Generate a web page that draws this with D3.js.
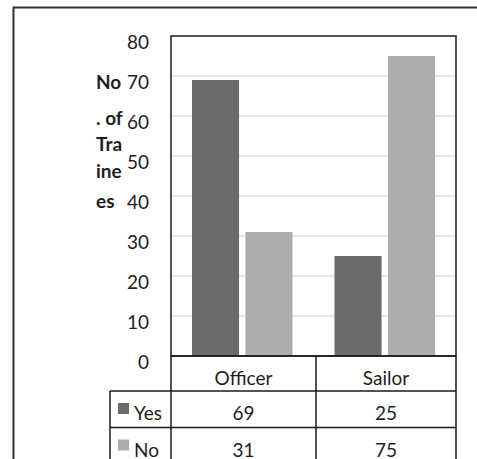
<!DOCTYPE html>
<html>
<head>
<meta charset="utf-8">
<script src="https://cdn.jsdelivr.net/npm/d3@7"></script>
<style>
  body { margin: 0; background: #fff; }
  svg { display: block; font-family: Lato, "Open Sans", sans-serif; }
</style>
</head>
<body>
<div id="chart"></div>
<script>
const categories = ['Officer', 'Sailor']
const seriesNames = ['Yes', 'No']
const yesValues = [69, 25]
const noValues = [31, 75]
const yTicks = [0, 10, 20, 30, 40, 50, 60, 70, 80]
const titleLines = ['No', '. of', 'Tra', 'ine', 'es']

const config = {
  width: 477,
  height: 459,
  fontSize: '19px',
  plot: { left: 171, right: 456, top: 36, bottom: 356 },
  table: { left: 110, rows: [356, 391, 427.5, 463] },
  colors: { Yes: '#6b6b6b', No: '#acacac', grid: '#cfcfcf', line: '#1a1a1a', text: '#1e1e1e' }
}

const series = [
  { name: seriesNames[0], values: yesValues },
  { name: seriesNames[1], values: noValues }
]

const svg = d3.select('#chart')
  .append('svg')
  .attr('width', config.width)
  .attr('height', config.height)

// outer frame (right side runs off the page)
svg.append('path')
  .attr('d', `M13.5,${config.height} V7.5 H${config.width + 5}`)
  .attr('fill', 'none')
  .attr('stroke', '#333')
  .attr('stroke-width', 2)

const p = config.plot
const y = d3.scaleLinear().domain([0, 80]).range([p.bottom, p.top])
const x0 = d3.scaleBand().domain(categories).range([p.left, p.right])
const x1 = d3.scaleBand().domain(seriesNames).range([21, x0.bandwidth() - 21]).paddingInner(0.12)

// gridlines
svg.append('g')
  .selectAll('line')
  .data(yTicks.filter(t => t > 0 && t < 80))
  .enter()
  .append('line')
  .attr('x1', p.left)
  .attr('x2', p.right)
  .attr('y1', d => y(d))
  .attr('y2', d => y(d))
  .attr('stroke', config.colors.grid)
  .attr('stroke-width', 1.2)

// bars
const groups = svg.append('g')
  .selectAll('g')
  .data(series)
  .enter()
  .append('g')
  .attr('fill', d => config.colors[d.name])

groups.selectAll('rect')
  .data(d => d.values.map((v, i) => ({ name: d.name, cat: categories[i], value: v })))
  .enter()
  .append('rect')
  .attr('x', d => x0(d.cat) + x1(d.name))
  .attr('width', x1.bandwidth())
  .attr('y', d => y(d.value))
  .attr('height', d => y(0) - y(d.value))

// plot border
svg.append('rect')
  .attr('x', p.left)
  .attr('y', p.top)
  .attr('width', p.right - p.left)
  .attr('height', p.bottom - p.top)
  .attr('fill', 'none')
  .attr('stroke', config.colors.line)
  .attr('stroke-width', 1.5)

// y tick labels
svg.append('g')
  .selectAll('text')
  .data(yTicks)
  .enter()
  .append('text')
  .attr('x', 149)
  .attr('y', d => y(d) + 13)
  .attr('text-anchor', 'end')
  .attr('fill', config.colors.text)
  .style('font-size', config.fontSize)
  .text(d => d)

// y axis title, wrapped like the original
const titleBaselines = [89, 125, 151, 178, 208]
svg.append('g')
  .selectAll('text')
  .data(titleLines)
  .enter()
  .append('text')
  .attr('x', 96)
  .attr('y', (d, i) => titleBaselines[i])
  .attr('font-weight', 'bold')
  .attr('fill', config.colors.text)
  .style('font-size', config.fontSize)
  .text(d => d)

// data table
const t = config.table
const rows = t.rows
const table = svg.append('g')
  .attr('stroke', config.colors.line)
  .attr('stroke-width', 1.5)

table.append('line').attr('x1', p.left).attr('x2', p.right).attr('y1', rows[0]).attr('y2', rows[0])
rows.slice(1).forEach(r => {
  table.append('line').attr('x1', t.left).attr('x2', p.right).attr('y1', r).attr('y2', r)
})
table.append('line').attr('x1', t.left).attr('x2', t.left).attr('y1', rows[1]).attr('y2', rows[3])
const colEdges = [p.left, ...categories.slice(1).map(c => x0(c) + 2.5), p.right]
colEdges.forEach(cx => {
  table.append('line').attr('x1', cx).attr('x2', cx).attr('y1', rows[0]).attr('y2', rows[3])
})

const colCenter = i => (colEdges[i] + colEdges[i + 1]) / 2

svg.append('g')
  .selectAll('text')
  .data(categories)
  .enter()
  .append('text')
  .attr('x', (d, i) => colCenter(i))
  .attr('y', rows[0] + 29)
  .attr('text-anchor', 'middle')
  .attr('fill', config.colors.text)
  .style('font-size', config.fontSize)
  .text(d => d)

series.forEach((s, r) => {
  const top = rows[r + 1]
  svg.append('rect')
    .attr('x', 118)
    .attr('y', top + 12)
    .attr('width', 11)
    .attr('height', 11)
    .attr('fill', config.colors[s.name])
  svg.append('text')
    .attr('x', 134)
    .attr('y', top + 29)
    .attr('fill', config.colors.text)
    .style('font-size', config.fontSize)
    .text(s.name)
  svg.append('g')
    .selectAll('text')
    .data(s.values)
    .enter()
    .append('text')
    .attr('x', (d, i) => colCenter(i))
    .attr('y', top + 29)
    .attr('text-anchor', 'middle')
    .attr('fill', config.colors.text)
    .style('font-size', config.fontSize)
    .text(d => d)
})
</script>
</body>
</html>
